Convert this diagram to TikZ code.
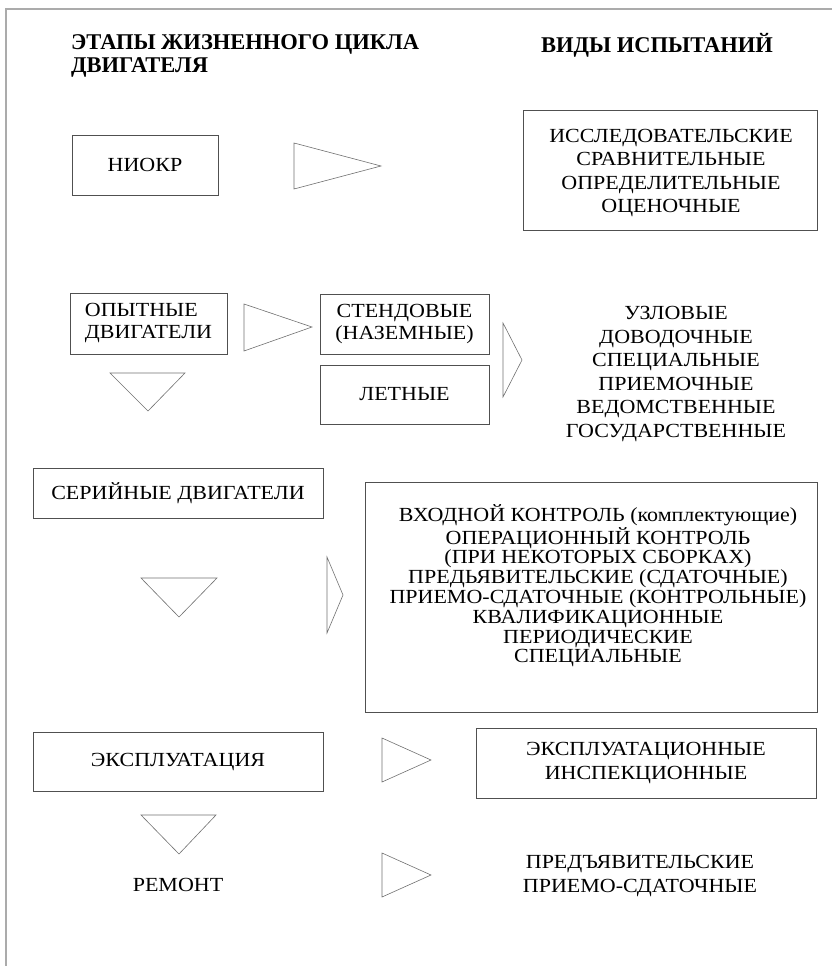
\documentclass[tikz,border=0pt]{standalone}
\usepackage{fontspec}
\setmainfont{Liberation Serif}
\newfontfamily\breitfont[FakeStretch=1.1]{Liberation Serif}
\usepackage{tikz}
\usetikzlibrary{positioning}
\definecolor{rahmen}{HTML}{ABABAB}
\definecolor{linie}{HTML}{505050}
\definecolor{dreieck}{HTML}{707070}
\newcommand\txtfont{\breitfont\fontsize{20}{23.5}\selectfont}
\newcommand\kopffont{\bfseries\fontsize{22.5}{23}\selectfont}
\tikzset{
  kasten/.style={draw=linie,line width=0.8pt,inner sep=0pt,align=center,font=\txtfont},
  liste/.style={inner sep=0pt,align=center,font=\txtfont},
  kopf/.style={inner sep=0pt,align=left,font=\kopffont,anchor=west},
  pfeil/.style={draw=dreieck,line width=0.6pt,line join=miter},
  rand/.style={draw=rahmen,line width=2pt},
}

\begin{document}
\begin{tikzpicture}[x=1pt,y=-1pt]
  \useasboundingbox (0,0) rectangle (832,966);
  \draw[rand] (6,966)--(6,9)--(832,9);
  % headings
  \node[kopf] (etapy) at (71,56) {ЭТАПЫ ЖИЗНЕННОГО ЦИКЛА\\ДВИГАТЕЛЯ};
  \node[kopf] (vidy) at (541,45) {ВИДЫ ИСПЫТАНИЙ};
  % NIOKR
  \node[kasten,minimum width=146,minimum height=60] (niokr) at (145,165) {НИОКР};
  \draw[pfeil] (294,143)--(381,166)--(294,189)--cycle;
  \node[kasten,minimum width=294,minimum height=120] (niokrisp) at (670,170) {};
  \node[liste] (niokrtext) at (671,173)
    {ИССЛЕДОВАТЕЛЬСКИЕ\\СРАВНИТЕЛЬНЫЕ\\ОПРЕДЕЛИТЕЛЬНЫЕ\\ОЦЕНОЧНЫЕ};
  % experimental engines
  \node[kasten,minimum width=157,minimum height=61,align=left,
    font=\breitfont\fontsize{20}{22}\selectfont] (opyt) at (148.5,323.5) {ОПЫТНЫЕ\\ДВИГАТЕЛИ};
  \draw[pfeil] (244,304)--(312,327)--(244,351)--cycle;
  \node[kasten,minimum width=169,minimum height=60,font=\breitfont\fontsize{20}{22}\selectfont]
    (stend) at (404.5,324) {СТЕНДОВЫЕ\\(НАЗЕМНЫЕ)};
  \node[kasten,minimum width=169,minimum height=59] (letn) at (404.5,394.5) {ЛЕТНЫЕ};
  \draw[pfeil] (503,323)--(522,360)--(503,397)--cycle;
  \node[liste] (opytisp) at (676,374)
    {УЗЛОВЫЕ\\ДОВОДОЧНЫЕ\\СПЕЦИАЛЬНЫЕ\\ПРИЕМОЧНЫЕ\\ВЕДОМСТВЕННЫЕ\\ГОСУДАРСТВЕННЫЕ};
  \draw[pfeil] (110,373)--(185,373)--(148,411)--cycle;
  % serial engines
  \node[kasten,minimum width=290,minimum height=50] (seria) at (178,493) {СЕРИЙНЫЕ ДВИГАТЕЛИ};
  \draw[pfeil] (141,578)--(217,578)--(179,617)--cycle;
  \draw[pfeil] (327,557)--(343,595)--(327,633)--cycle;
  \node[kasten,minimum width=452,minimum height=230] (seriaisp) at (591,597) {};
  \node[liste,font=\breitfont\fontsize{20}{19.8}\selectfont] (seriatext) at (598,586)
    {ВХОДНОЙ КОНТРОЛЬ (комплектующие)\\ОПЕРАЦИОННЫЙ КОНТРОЛЬ\\(ПРИ НЕКОТОРЫХ СБОРКАХ)\\
     ПРЕДЬЯВИТЕЛЬСКИЕ (СДАТОЧНЫЕ)\\ПРИЕМО-СДАТОЧНЫЕ (КОНТРОЛЬНЫЕ)\\
     КВАЛИФИКАЦИОННЫЕ\\ПЕРИОДИЧЕСКИЕ\\СПЕЦИАЛЬНЫЕ};
  % operation and repair
  \node[kasten,minimum width=290,minimum height=59] (ekspl) at (178,761.5) {ЭКСПЛУАТАЦИЯ};
  \draw[pfeil] (382,738)--(431,760)--(382,782)--cycle;
  \node[kasten,minimum width=340,minimum height=70,font=\breitfont\fontsize{20}{24}\selectfont]
    (eksplisp) at (646,763) {ЭКСПЛУАТАЦИОННЫЕ\\ИНСПЕКЦИОННЫЕ};
  \draw[pfeil] (141,815)--(216,815)--(179,854)--cycle;
  \node[liste] (remont) at (178,885) {РЕМОНТ};
  \draw[pfeil] (382,853)--(431,875)--(382,897)--cycle;
  \node[liste,font=\breitfont\fontsize{20}{24}\selectfont] (remisp) at (640,876)
    {ПРЕДЪЯВИТЕЛЬСКИЕ\\ПРИЕМО-СДАТОЧНЫЕ};
\end{tikzpicture}
\end{document}
